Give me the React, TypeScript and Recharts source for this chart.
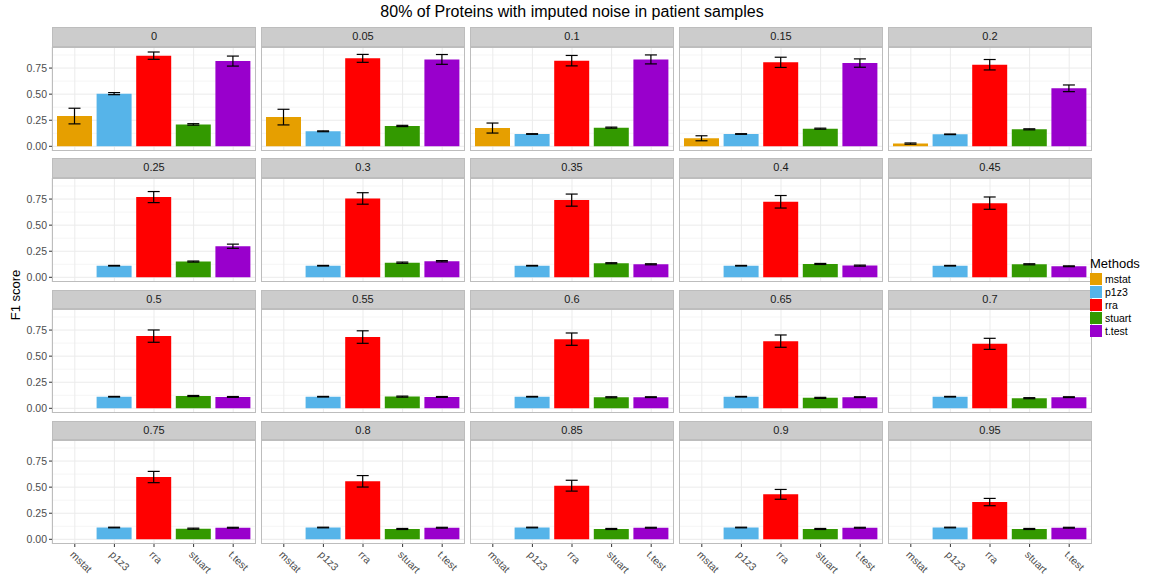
import React from 'react';
import { BarChart, Bar, XAxis, YAxis, CartesianGrid, ErrorBar, Cell } from 'recharts';

const title = '80% of Proteins with imputed noise in patient samples';
const yLabel = 'F1 score';
const legendTitle = 'Methods';

const methods = ['mstat', 'p1z3', 'rra', 'stuart', 't.test'];
const methodColors = ['#E69F00', '#56B4E9', '#FF0000', '#339900', '#9900CC'];
const noiseLevels = ['0', '0.05', '0.1', '0.15', '0.2', '0.25', '0.3', '0.35', '0.4', '0.45',
  '0.5', '0.55', '0.6', '0.65', '0.7', '0.75', '0.8', '0.85', '0.9', '0.95'];

const yTicks = [0, 0.25, 0.5, 0.75];
const yMinor = [0.125, 0.375, 0.625, 0.875];

// mean F1 per noise level, one list per method (null = not shown)
const mstatMean = [0.29, 0.28, 0.175, 0.077, 0.026, null, null, null, null, null,
  null, null, null, null, null, null, null, null, null, null];
const p1z3Mean = [0.505, 0.144, 0.118, 0.118, 0.115, 0.111, 0.111, 0.111, 0.111, 0.111,
  0.111, 0.111, 0.111, 0.111, 0.111, 0.113, 0.113, 0.113, 0.113, 0.113];
const rraMean = [0.869, 0.843, 0.821, 0.805, 0.782, 0.769, 0.756, 0.74, 0.724, 0.711,
  0.692, 0.683, 0.663, 0.644, 0.618, 0.597, 0.556, 0.514, 0.431, 0.357];
const stuartMean = [0.21, 0.195, 0.179, 0.169, 0.163, 0.151, 0.14, 0.135, 0.128, 0.125,
  0.118, 0.112, 0.106, 0.1, 0.097, 0.102, 0.099, 0.099, 0.099, 0.099];
const ttestMean = [0.817, 0.833, 0.833, 0.798, 0.556, 0.298, 0.154, 0.125, 0.112, 0.106,
  0.109, 0.109, 0.107, 0.107, 0.107, 0.111, 0.111, 0.111, 0.111, 0.111];

// error bar half-length
const mstatErr = [0.075, 0.075, 0.048, 0.024, 0.006, null, null, null, null, null,
  null, null, null, null, null, null, null, null, null, null];
const p1z3Err = [0.01, 0.004, 0.003, 0.003, 0.003, 0.003, 0.003, 0.003, 0.003, 0.003,
  0.003, 0.003, 0.003, 0.003, 0.003, 0.003, 0.003, 0.003, 0.003, 0.003];
const rraErr = [0.035, 0.038, 0.05, 0.049, 0.05, 0.053, 0.055, 0.058, 0.06, 0.059,
  0.059, 0.06, 0.059, 0.059, 0.053, 0.054, 0.055, 0.052, 0.047, 0.035];
const stuartErr = [0.007, 0.006, 0.005, 0.005, 0.005, 0.005, 0.006, 0.005, 0.005, 0.005,
  0.005, 0.005, 0.005, 0.005, 0.005, 0.005, 0.005, 0.005, 0.005, 0.005];
const ttestErr = [0.048, 0.047, 0.043, 0.04, 0.032, 0.02, 0.006, 0.005, 0.005, 0.004,
  0.004, 0.004, 0.004, 0.004, 0.004, 0.004, 0.004, 0.004, 0.004, 0.004];

const means = [mstatMean, p1z3Mean, rraMean, stuartMean, ttestMean];
const errs = [mstatErr, p1z3Err, rraErr, stuartErr, ttestErr];

const FONT = '"Liberation Sans", Arial, Helvetica, sans-serif';
const PANEL_W = 204;
const PLOT_H = 104;
const STRIP_H = 19.5;
const Y_AXIS_W = 52;
const X_AXIS_H = 36;

const SlantTick = (props: any) => {
  const { x, y, payload } = props;
  const tx = x;
  const ty = y;
  return (
    <text x={tx} y={ty} dy="0.71em" transform={`rotate(45 ${tx} ${ty})`} textAnchor="start"
      fontSize={10.5} fill="#4D4D4D" fontFamily={FONT}>
      {payload.value}
    </text>
  );
};

function Panel({ index }: { index: number }) {
  const col = index % 5;
  const row = Math.floor(index / 5);
  const left = 52 + col * 209;
  const stripTop = 27 + row * 131.3;
  const plotTop = stripTop + STRIP_H;
  const showY = col === 0;
  const showX = row === 3;
  const data = methods.map((m, j) => ({ method: m, value: means[j][index], err: errs[j][index] }));

  return (
    <>
      <div style={{
        position: 'absolute', left, top: stripTop, width: PANEL_W, height: STRIP_H,
        background: '#CCCCCC', border: '1px solid #BDBDBD', boxSizing: 'border-box',
        textAlign: 'center', fontSize: 11, lineHeight: `${STRIP_H - 2}px`, color: '#1A1A1A',
      }}>
        {noiseLevels[index]}
      </div>
      <div style={{ position: 'absolute', left: showY ? left - Y_AXIS_W : left, top: plotTop }}>
        <BarChart
          width={PANEL_W + (showY ? Y_AXIS_W : 0)}
          height={PLOT_H + (showX ? X_AXIS_H : 0)}
          data={data}
          margin={{ top: 0, right: 0, bottom: 0, left: 0 }}
        >
          <CartesianGrid horizontalValues={yMinor} vertical={false} stroke="#F5F5F5" />
          <CartesianGrid horizontalValues={yTicks} stroke="#EBEBEB" />
          <XAxis
            dataKey="method"
            type="category"
            padding={{ left: 3, right: 3 }}
            hide={!showX}
            height={X_AXIS_H}
            interval={0}
            axisLine={false}
            tickSize={3}
            tickMargin={3}
            tickLine={{ stroke: '#333333' }}
            tick={<SlantTick />}
          />
          <YAxis
            type="number"
            domain={[-0.045, 0.952]}
            allowDataOverflow
            ticks={yTicks}
            interval={0}
            hide={!showY}
            width={Y_AXIS_W}
            axisLine={false}
            tickSize={3}
            tickMargin={2}
            tickLine={{ stroke: '#333333' }}
            tickFormatter={(v: number) => v.toFixed(2)}
            tick={{ fontSize: 10.5, fill: '#4D4D4D', fontFamily: FONT }}
          />
          <Bar dataKey="value" barSize={35} isAnimationActive={false}>
            {data.map((d, j) => (
              <Cell key={d.method} fill={methodColors[j]} />
            ))}
            <ErrorBar dataKey="err" width={6} stroke="#000000" strokeWidth={1.2} direction="y" />
          </Bar>
        </BarChart>
      </div>
      <div style={{
        position: 'absolute', left, top: plotTop, width: PANEL_W, height: PLOT_H,
        border: '1px solid #BDBDBD', boxSizing: 'border-box', pointerEvents: 'none',
      }} />
    </>
  );
}

export default function App() {
  return (
    <div style={{
      position: 'absolute', left: 0, top: 0, width: 1161, height: 576,
      background: '#FFFFFF', fontFamily: FONT, overflow: 'hidden',
    }}>
      <div style={{
        position: 'absolute', left: 52, top: 3, width: 1040, textAlign: 'center',
        fontSize: 16, color: '#000000',
      }}>
        {title}
      </div>
      <div style={{
        position: 'absolute', left: -34, top: 287, width: 100, height: 16, textAlign: 'center',
        fontSize: 13, color: '#000000', transform: 'rotate(-90deg)', lineHeight: '16px',
      }}>
        {yLabel}
      </div>
      {noiseLevels.map((lvl, i) => (
        <Panel key={lvl} index={i} />
      ))}
      <div style={{ position: 'absolute', left: 1090, top: 256 }}>
        <div style={{ fontSize: 13, lineHeight: '15px', marginBottom: 1 }}>{legendTitle}</div>
        {methods.map((m, j) => (
          <div key={m} style={{ display: 'flex', alignItems: 'center', height: 13 }}>
            <div style={{ width: 12, height: 12, background: methodColors[j], marginRight: 3 }} />
            <span style={{ fontSize: 10.5, color: '#000000' }}>{m}</span>
          </div>
        ))}
      </div>
    </div>
  );
}
